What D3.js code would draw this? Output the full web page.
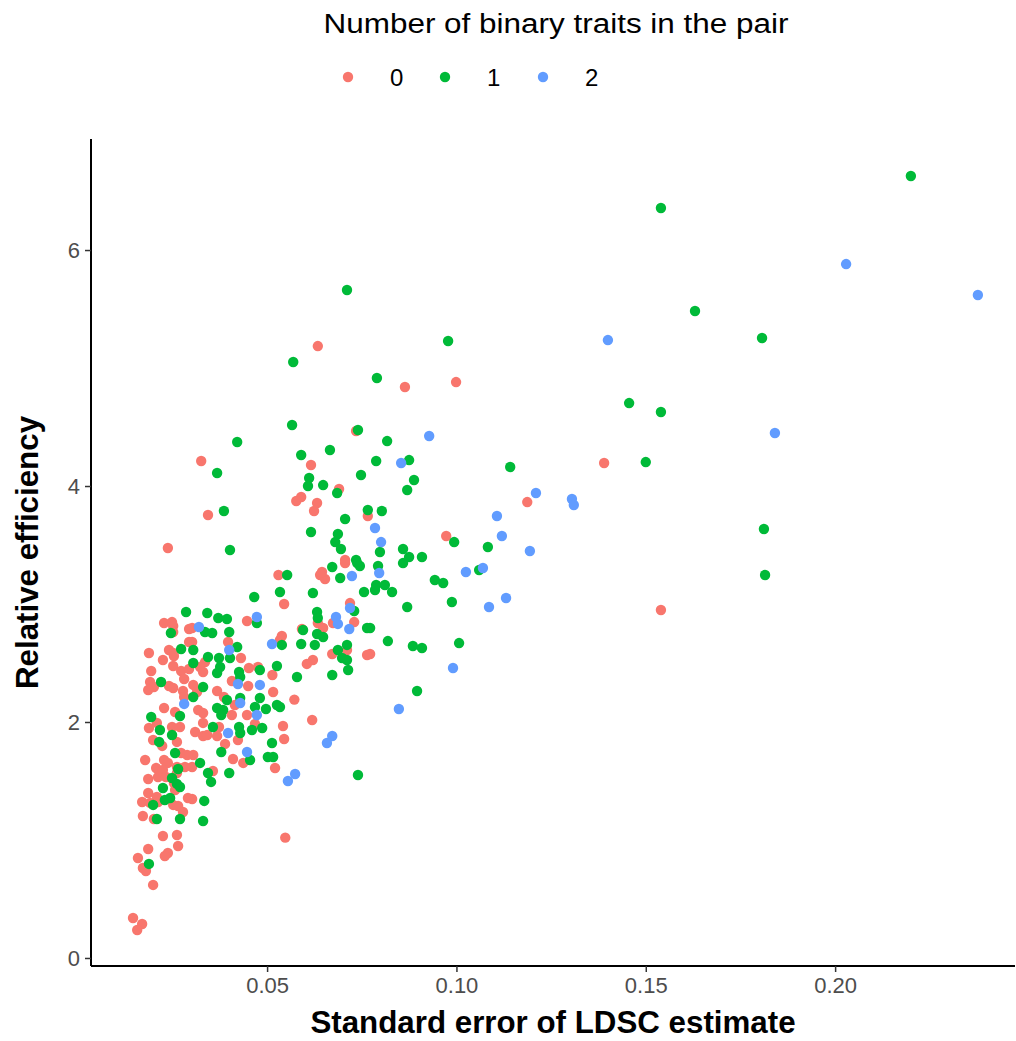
<!DOCTYPE html>
<html>
<head>
<meta charset="utf-8">
<script src="https://cdn.jsdelivr.net/npm/d3@7"></script>
<style>
  body { margin: 0; background: #fff; }
  svg text { font-family: "Liberation Sans", Arial, Helvetica, sans-serif; }
</style>
</head>
<body>
<svg id="chart" width="1016" height="1041"></svg>
<script>
// Legend groups: number of binary traits in the trait pair
const groupLabels = ["0", "1", "2"];
const groupColors = ["#F8766D", "#00BA38", "#619CFF"];

// Axis ticks
const xTicks = [0.05, 0.10, 0.15, 0.20];
const yTicks = [0, 2, 4, 6];

// [standard error of LDSC estimate, relative efficiency] per trait pair
const pairs0 = [
  [0.0634,5.186],[0.0864,4.839],[0.0999,4.881],[0.1390,4.195],[0.1187,3.864],[0.1540,2.949],
  [0.0973,3.576],[0.0735,4.466],[0.0616,4.178],[0.0690,3.975],[0.0590,3.907],[0.0577,3.873],
  [0.0632,3.856],[0.0624,3.788],[0.0766,3.746],[0.0706,3.373],[0.0326,4.212],[0.0344,3.754],
  [0.0238,3.475],[0.0530,3.246],[0.0548,1.020],[0.0772,2.576],
  [0.0706,3.347],[0.0640,3.246],[0.0653,3.212],[0.0645,3.271],[0.0545,3.000],[0.0719,3.008],
  [0.0674,2.839],[0.0730,2.847],[0.0634,2.839],[0.0648,2.797],[0.0592,2.788],[0.0539,2.729],
  [0.0534,2.695],[0.0711,2.610],[0.0672,2.576],[0.0764,2.568],[0.0621,2.525],[0.0605,2.492],
  [0.0514,2.398],[0.0516,2.254],[0.0572,2.190],[0.0542,1.966],[0.0619,2.017],[0.0545,1.856],
  [0.0521,1.610],
  [0.0447,2.856],[0.0302,2.797],[0.0397,2.678],[0.0302,2.678],[0.0431,2.542],[0.0336,2.508],
  [0.0323,2.466],[0.0452,2.458],[0.0476,2.466],[0.0331,2.424],[0.0407,2.347],[0.0450,2.305],
  [0.0305,2.314],[0.0368,2.263],[0.0315,2.254],[0.0386,2.212],[0.0415,2.144],[0.0318,2.102],
  [0.0331,2.076],[0.0407,2.059],[0.0447,2.059],
  [0.0331,1.992],[0.0310,1.915],[0.0331,1.881],[0.0342,1.890],[0.0373,1.958],[0.0368,1.881],
  [0.0468,1.983],[0.0423,1.847],[0.0389,1.814],[0.0305,1.720],[0.0410,1.686],[0.0437,1.653],
  [0.0302,1.619],[0.0357,1.585],[0.0302,1.347],
  [0.0228,2.839],[0.0249,2.847],[0.0252,2.814],[0.0252,2.763],[0.0294,2.788],[0.0294,2.678],
  [0.0241,2.610],[0.0252,2.585],[0.0188,2.585],[0.0225,2.525],[0.0254,2.559],[0.0252,2.475],
  [0.0194,2.432],[0.0273,2.432],[0.0294,2.449],[0.0281,2.364],[0.0191,2.339],[0.0201,2.297],
  [0.0186,2.271],[0.0241,2.305],[0.0252,2.288],[0.0278,2.263],[0.0281,2.212],[0.0228,2.119],
  [0.0257,2.085],
  [0.0188,1.949],[0.0209,1.992],[0.0249,1.958],[0.0270,1.958],[0.0199,1.847],[0.0223,1.797],
  [0.0262,1.831],[0.0273,1.737],[0.0289,1.720],[0.0178,1.678],[0.0228,1.678],[0.0238,1.653],
  [0.0207,1.610],[0.0225,1.593],[0.0262,1.619],[0.0283,1.619],[0.0262,1.568],[0.0212,1.534],
  [0.0233,1.534],[0.0186,1.517],[0.0254,1.483],[0.0257,1.424],[0.0186,1.398],[0.0209,1.364],
  [0.0170,1.322],[0.0191,1.314],[0.0212,1.322],[0.0252,1.297],[0.0265,1.288],[0.0291,1.356],
  [0.0278,1.237],[0.0172,1.203],[0.0201,1.178],[0.0225,1.034],[0.0262,1.042],
  [0.0186,0.924],[0.0265,0.949],[0.0159,0.847],[0.0238,0.890],[0.0230,0.864],[0.0172,0.763],
  [0.0180,0.737],[0.0199,0.619],[0.0146,0.339],[0.0170,0.288],[0.0157,0.237]
];

const pairs1 = [
  [0.2200,6.627],[0.1540,6.356],[0.0711,5.661],[0.0978,5.229],[0.1630,5.483],[0.1807,5.254],
  [0.0790,4.915],[0.0569,5.051],[0.1456,4.703],[0.1540,4.627],[0.1500,4.203],[0.1142,4.161],
  [0.1812,3.636],[0.1815,3.246],[0.1083,3.483],[0.1060,3.288],[0.1007,2.669],[0.0740,1.551],
  [0.0896,2.263],
  [0.0566,4.517],[0.0740,4.475],[0.0817,4.381],[0.0590,4.263],[0.0666,4.305],[0.0788,4.212],
  [0.0875,4.220],[0.0748,4.093],[0.0611,4.068],[0.0608,4.000],[0.0648,4.008],[0.0685,3.941],
  [0.0888,4.051],[0.0870,3.966],[0.0766,3.797],[0.0803,3.788],[0.0706,3.720],[0.0616,3.610],
  [0.0687,3.593],[0.0680,3.525],[0.0695,3.466],[0.0798,3.441],[0.0994,3.525],[0.0859,3.466],
  [0.0875,3.398],[0.0909,3.398],[0.0735,3.373],
  [0.0793,3.322],[0.0859,3.347],[0.0788,3.161],[0.0811,3.161],[0.0785,3.119],[0.0830,3.102],
  [0.0943,3.203],[0.0965,3.178],[0.0988,3.017],[0.0870,2.975],[0.0772,2.797],[0.0819,2.686],
  [0.0885,2.644],[0.0909,2.627],
  [0.0672,3.314],[0.0738,3.347],[0.0745,3.322],[0.0553,3.246],[0.0693,3.220],[0.0534,3.102],
  [0.0621,3.093],[0.0756,3.102],[0.0730,2.941],[0.0632,2.932],[0.0634,2.881],[0.0595,2.780],
  [0.0632,2.746],[0.0648,2.720],[0.0764,2.797],[0.0539,2.653],[0.0590,2.661],[0.0626,2.653],
  [0.0711,2.653],[0.0687,2.610],[0.0698,2.542],[0.0711,2.525],[0.0526,2.475],[0.0714,2.441],
  [0.0672,2.398],[0.0579,2.381],
  [0.0421,4.373],[0.0368,4.110],[0.0386,3.788],[0.0402,3.458],[0.0466,3.059],
  [0.0526,2.144],[0.0534,2.127],[0.0513,1.822],[0.0516,1.703],
  [0.0342,2.924],[0.0371,2.881],[0.0394,2.873],[0.0473,2.839],[0.0336,2.763],[0.0355,2.754],
  [0.0400,2.763],[0.0421,2.636],[0.0305,2.610],[0.0344,2.551],[0.0373,2.542],[0.0402,2.542],
  [0.0305,2.500],[0.0376,2.466],[0.0481,2.441],[0.0426,2.424],[0.0368,2.415],[0.0429,2.381],
  [0.0331,2.297],[0.0305,2.212],[0.0394,2.186],[0.0429,2.203],[0.0481,2.203],[0.0368,2.119],
  [0.0384,2.102],[0.0379,2.059],[0.0468,2.127],[0.0497,2.110],
  [0.0357,1.958],[0.0426,1.958],[0.0429,1.907],[0.0460,1.932],[0.0487,1.949],[0.0379,1.746],
  [0.0455,1.678],[0.0323,1.653],[0.0502,1.703],[0.0400,1.568],[0.0344,1.568],[0.0352,1.492],
  [0.0334,1.331],[0.0331,1.161],
  [0.0286,2.932],[0.0246,2.754],[0.0273,2.619],[0.0220,2.339],[0.0194,2.042],[0.0270,2.051],
  [0.0217,1.932],[0.0249,1.890],[0.0215,1.831],[0.0257,1.737],[0.0265,1.602],[0.0249,1.525],
  [0.0262,1.475],[0.0270,1.449],[0.0225,1.441],[0.0199,1.297],[0.0230,1.339],[0.0244,1.356],
  [0.0209,1.178],[0.0270,1.178],[0.0188,0.797]
];

const pairs2 = [
  [0.2377,5.619],[0.2029,5.881],[0.1400,5.237],[0.1841,4.449],[0.0928,4.424],[0.0854,4.195],
  [0.1210,3.941],[0.1305,3.890],[0.1310,3.839],[0.1107,3.746],[0.1120,3.576],[0.1194,3.449],
  [0.1025,3.271],[0.1070,3.305],[0.1131,3.051],[0.1086,2.975],[0.0991,2.458],[0.0848,2.110],
  [0.0785,3.644],[0.0801,3.525],[0.0796,3.263],[0.0724,3.237],[0.0719,2.966],[0.0682,2.890],
  [0.0687,2.831],[0.0717,2.788],[0.0513,2.661],[0.0672,1.881],[0.0658,1.822],[0.0574,1.559],
  [0.0555,1.500],[0.0473,2.890],[0.0320,2.805],[0.0400,2.610],[0.0423,2.322],[0.0481,2.314],
  [0.0429,2.161],[0.0473,2.059],[0.0397,1.907],[0.0447,1.746],[0.0281,2.153]
];

const groups = [pairs0, pairs1, pairs2];

// Panel geometry
const panel = { left: 91, right: 1015, top: 139, bottom: 966 };

const svg = d3.select("#chart");

const x = d3.scaleLinear().domain([0.0035, 0.2475]).range([panel.left, panel.right]);
const y = d3.scaleLinear().domain([-0.068, 6.941]).range([panel.bottom, panel.top]);

// Points
const points = groups.flatMap((arr, g) => arr.map(d => ({ se: d[0], eff: d[1], g })));
svg.append("g")
  .selectAll("circle")
  .data(points)
  .join("circle")
  .attr("cx", d => x(d.se))
  .attr("cy", d => y(d.eff))
  .attr("r", 5.2)
  .attr("fill", d => groupColors[d.g]);

// Axes
const xAxis = svg.append("g")
  .attr("transform", `translate(0,${panel.bottom})`)
  .call(d3.axisBottom(x).tickValues(xTicks).tickFormat(d3.format(".2f")).tickSizeOuter(0).tickSize(6).tickPadding(5));
const yAxis = svg.append("g")
  .attr("transform", `translate(${panel.left},0)`)
  .call(d3.axisLeft(y).tickValues(yTicks).tickFormat(d3.format("d")).tickSizeOuter(0).tickSize(6).tickPadding(5));

[xAxis, yAxis].forEach(a => {
  a.select(".domain").attr("stroke", "#000").attr("stroke-width", 2);
  a.selectAll(".tick line").attr("stroke", "#333").attr("stroke-width", 1.5);
  a.selectAll(".tick text").attr("fill", "#4d4d4d").style("font-size", "22px");
});
// axis lines span the whole panel
xAxis.select(".domain").attr("d", `M${panel.left},0H${panel.right}`);
yAxis.select(".domain").attr("d", `M0,${panel.top}V${panel.bottom}`);

// Axis titles
svg.append("text")
  .attr("x", (panel.left + panel.right) / 2)
  .attr("y", 1033)
  .attr("text-anchor", "middle")
  .style("font-size", "31.3px")
  .style("font-weight", "bold")
  .text("Standard error of LDSC estimate");

svg.append("text")
  .attr("transform", `translate(38,${(panel.top + panel.bottom) / 2}) rotate(-90)`)
  .attr("text-anchor", "middle")
  .style("font-size", "31.3px")
  .style("font-weight", "bold")
  .text("Relative efficiency");

// Legend
svg.append("text")
  .attr("x", 556)
  .attr("y", 33)
  .attr("text-anchor", "middle")
  .attr("textLength", 465)
  .attr("lengthAdjust", "spacingAndGlyphs")
  .style("font-size", "27px")
  .text("Number of binary traits in the pair");

const legendX = [348, 445, 543];
const legend = svg.append("g").selectAll("g")
  .data(groupLabels)
  .join("g")
  .attr("transform", (d, i) => `translate(${legendX[i]},77)`);
legend.append("circle").attr("r", 5.2).attr("fill", (d, i) => groupColors[i]);
legend.append("text")
  .attr("x", 42)
  .attr("dy", "0.36em")
  .style("font-size", "24px")
  .text(d => d);
</script>
</body>
</html>
